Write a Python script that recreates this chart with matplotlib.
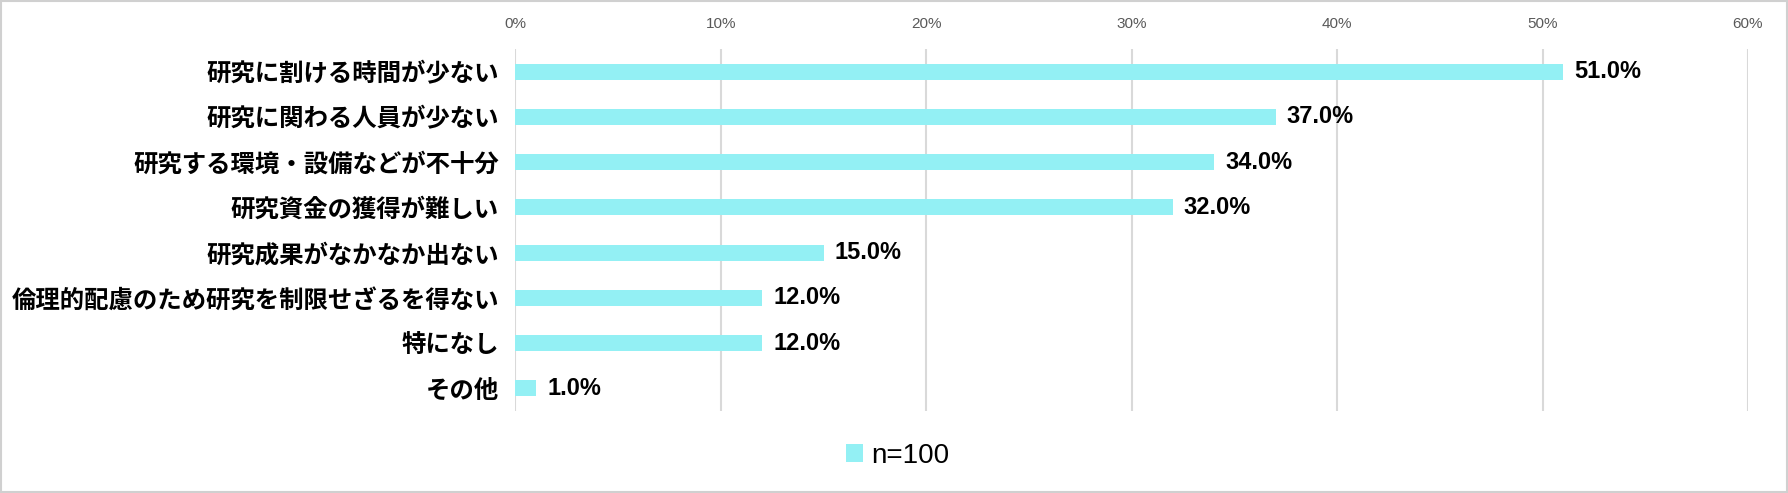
import matplotlib.pyplot as plt
from matplotlib.patches import Rectangle

plt.rcParams['font.family'] = ['Noto Sans CJK JP', 'DejaVu Sans']

categories = ['研究に割ける時間が少ない', '研究に関わる人員が少ない', '研究する環境・設備などが不十分',
              '研究資金の獲得が難しい', '研究成果がなかなか出ない', '倫理的配慮のため研究を制限せざるを得ない',
              '特になし', 'その他']
values = [51.0, 37.0, 34.0, 32.0, 15.0, 12.0, 12.0, 1.0]
series_name = 'n=100'
xticks = [0, 10, 20, 30, 40, 50, 60]

bar_color = '#93f0f4'
grid_color = '#d9d9d9'

fig = plt.figure(figsize=(17.88, 4.93), dpi=100)
fig.patches.append(Rectangle((0.0008, 0.002), 0.9984, 0.995, transform=fig.transFigure,
                             fill=False, edgecolor='#d0d0d0', linewidth=1.5))
ax = fig.add_axes([0.2883, 0.1663, 0.6893, 0.7343])

ypos = list(range(len(categories)))
bars = ax.barh(ypos, values, height=0.35, color=bar_color, label=series_name, zorder=3)

ax.set_xlim(0, 60)
ax.set_ylim(len(categories) - 0.5, -0.5)
ax.set_xticks(xticks)
ax.set_xticklabels([f'{t}%' for t in xticks], family=['Liberation Sans'], fontsize=11, color='#595959')
ax.xaxis.tick_top()
ax.tick_params(axis='x', length=0, pad=13)
ax.set_yticks(ypos)
ax.set_yticklabels(categories, fontsize=17.6, fontweight='bold', color='#000000')
ax.tick_params(axis='y', length=0, pad=12)
ax.grid(axis='x', color=grid_color, linewidth=1.5, zorder=0)
for s in ax.spines.values():
    s.set_visible(False)

for y, v in zip(ypos, values):
    ax.annotate(f'{v:.1f}%', (v, y), xytext=(8, 0), textcoords='offset points',
                ha='left', va='center', fontsize=17, fontweight='bold',
                family=['Liberation Sans'], color='#000000')

leg = fig.legend(loc='center', bbox_to_anchor=(0.502, 0.075), frameon=False,
                 prop={'family': 'Liberation Sans', 'size': 20},
                 handlelength=0.6, handleheight=0.6, handletextpad=0.3)

fig.savefig('out.png', dpi=100)
